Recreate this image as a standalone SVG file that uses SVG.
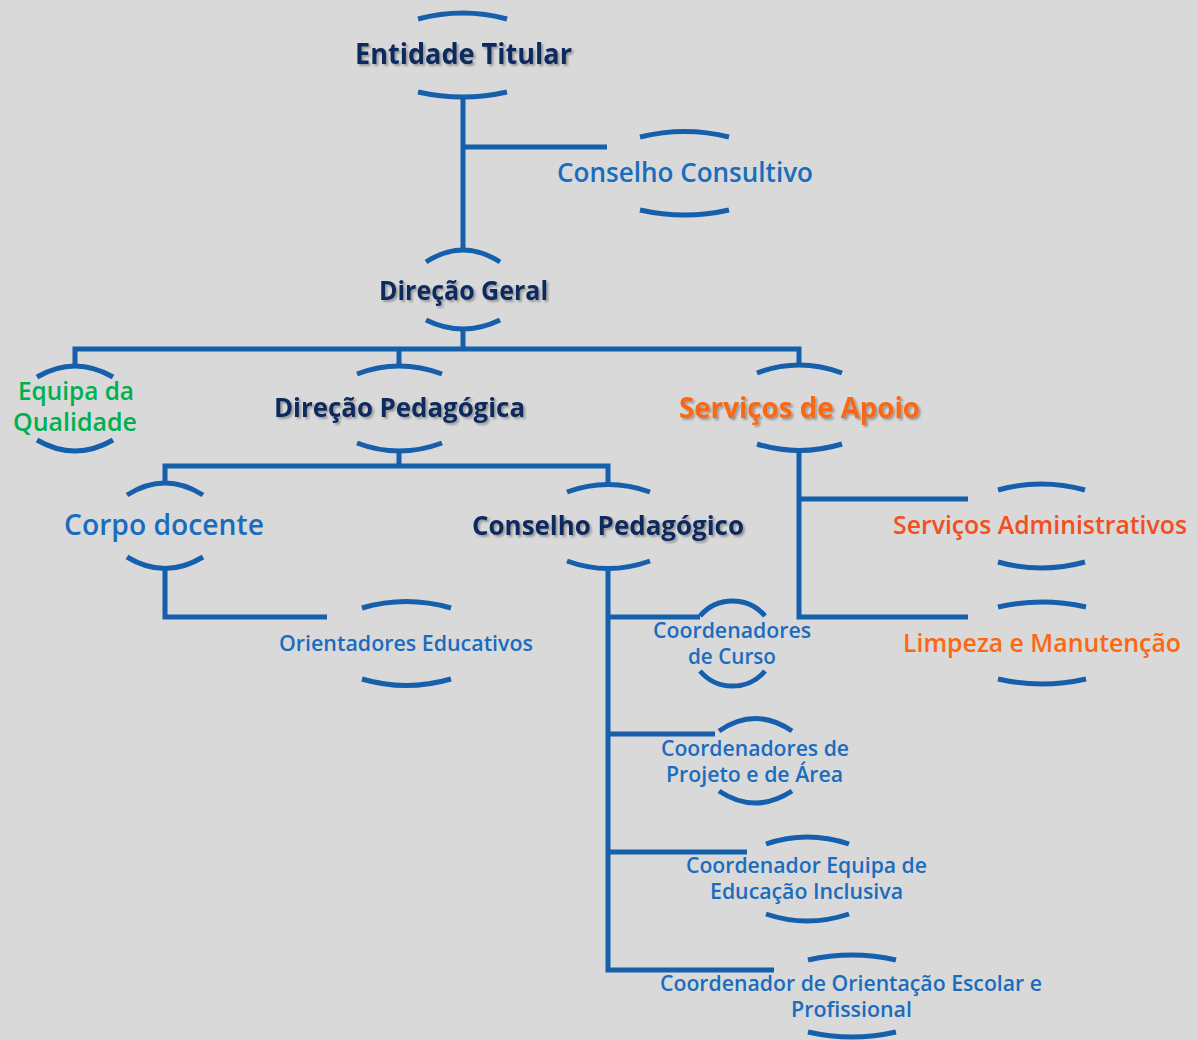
<svg xmlns="http://www.w3.org/2000/svg" width="1197" height="1040" viewBox="0 0 1197 1040">
<defs>
<filter id="sh" x="-10%" y="-30%" width="120%" height="160%">
<feDropShadow dx="2" dy="2" stdDeviation="1.2" flood-color="#000" flood-opacity="0.3"/>
</filter>
<style>
.ln{fill:none;stroke:#155fad;stroke-width:5;stroke-linejoin:miter;stroke-linecap:butt}
.arc{fill:none;stroke:#155fad;stroke-width:5;stroke-linecap:butt}
text{font-family:"Open Sans","Noto Sans","Liberation Sans",sans-serif;text-anchor:middle;font-weight:600}
.navy{fill:#10295e;font-weight:bold;filter:url(#sh)}
.title{font-weight:bold;filter:url(#sh)}
.blue{fill:#1a6cbf}
.green{fill:#00b050}
.orange{fill:#fa6812}
.red{fill:#f24e1e}
</style>
</defs>
<rect width="1197" height="1040" fill="#d9d9d9"/>
<g id="connectors">
<path class="ln" d="M463,97 V251"/>
<path class="ln" d="M463,147 H607"/>
<path class="ln" d="M463,329 V349"/>
<path class="ln" d="M75,367 V349 H799 V366"/>
<path class="ln" d="M399,349 V367"/>
<path class="ln" d="M399,451 V466"/>
<path class="ln" d="M165,484 V466 H608 V485"/>
<path class="ln" d="M165,569 V617 H327"/>
<path class="ln" d="M608,569 V970 H774"/>
<path class="ln" d="M608,617 H700"/>
<path class="ln" d="M608,734 H715"/>
<path class="ln" d="M608,852 H747"/>
<path class="ln" d="M799,450 V617 H968"/>
<path class="ln" d="M799,499 H968"/>
</g>
<g id="entidade-titular">
<path class="arc" d="M418,19 Q463,7 507,19"/>
<path class="arc" d="M418,92 Q463,102 507,92"/>
<text class="navy" x="463.5" y="64" font-size="29" textLength="217" lengthAdjust="spacingAndGlyphs">Entidade Titular</text>
</g>
<g id="conselho-consultivo">
<path class="arc" d="M640,137 Q685,126 729,137"/>
<path class="arc" d="M640,210 Q685,220 729,210"/>
<text class="blue" x="685" y="182" font-size="27" textLength="256" lengthAdjust="spacingAndGlyphs">Conselho Consultivo</text>
</g>
<g id="direcao-geral">
<path class="arc" d="M426,262 Q463,238 500,262"/>
<path class="arc" d="M426,320 Q463,338 500,320"/>
<text class="navy" x="463.5" y="300" font-size="27" textLength="169" lengthAdjust="spacingAndGlyphs">Direção Geral</text>
</g>
<g id="equipa-qualidade">
<path class="arc" d="M37,377 Q75,355 113,377"/>
<path class="arc" d="M37,440 Q75,462 113,440"/>
<text class="green" x="76" y="400" font-size="25" textLength="116" lengthAdjust="spacingAndGlyphs">Equipa da</text>
<text class="green" x="75" y="431" font-size="25" textLength="124" lengthAdjust="spacingAndGlyphs">Qualidade</text>
</g>
<g id="direcao-pedagogica">
<path class="arc" d="M357,374 Q399,358 442,374"/>
<path class="arc" d="M357,443 Q399,459 442,443"/>
<text class="navy" x="399.5" y="417" font-size="27" textLength="251" lengthAdjust="spacingAndGlyphs">Direção Pedagógica</text>
</g>
<g id="servicos-apoio">
<path class="arc" d="M757,373 Q799,357 842,373"/>
<path class="arc" d="M757,444 Q799,457 842,444"/>
<text class="orange title" x="799.5" y="418" font-size="29" textLength="241" lengthAdjust="spacingAndGlyphs">Serviços de Apoio</text>
</g>
<g id="corpo-docente">
<path class="arc" d="M127,495 Q165,471 203,495"/>
<path class="arc" d="M127,557 Q165,580 203,557"/>
<text class="blue" x="164" y="535" font-size="28" textLength="200" lengthAdjust="spacingAndGlyphs">Corpo docente</text>
</g>
<g id="conselho-pedagogico">
<path class="arc" d="M567,492 Q608,477 650,492"/>
<path class="arc" d="M567,561 Q608,576 650,561"/>
<text class="navy" x="608" y="535" font-size="27" textLength="272" lengthAdjust="spacingAndGlyphs">Conselho Pedagógico</text>
</g>
<g id="orientadores-educativos">
<path class="arc" d="M362,608 Q406,595 451,608"/>
<path class="arc" d="M362,679 Q406,692 451,679"/>
<text class="blue" x="406" y="651" font-size="22" textLength="254" lengthAdjust="spacingAndGlyphs">Orientadores Educativos</text>
</g>
<g id="coordenadores-curso">
<path class="arc" d="M700,616 A42.6,42.6 0 0 1 765,616"/>
<path class="arc" d="M700,671 A42.6,42.6 0 0 0 765,671"/>
<text class="blue" x="732" y="638" font-size="21" textLength="158" lengthAdjust="spacingAndGlyphs">Coordenadores</text>
<text class="blue" x="732" y="664" font-size="21" textLength="88" lengthAdjust="spacingAndGlyphs">de Curso</text>
</g>
<g id="coordenadores-projeto">
<path class="arc" d="M719,731 Q755,706 792,731"/>
<path class="arc" d="M719,791 Q755,815 792,791"/>
<text class="blue" x="755" y="756" font-size="21" textLength="188" lengthAdjust="spacingAndGlyphs">Coordenadores de</text>
<text class="blue" x="754.5" y="782" font-size="21" textLength="177" lengthAdjust="spacingAndGlyphs">Projeto e de Área</text>
</g>
<g id="coordenador-inclusiva">
<path class="arc" d="M766,844 Q807,830 849,844"/>
<path class="arc" d="M766,914 Q807,928 849,914"/>
<text class="blue" x="806.5" y="873" font-size="21" textLength="241" lengthAdjust="spacingAndGlyphs">Coordenador Equipa de</text>
<text class="blue" x="806.5" y="899" font-size="21" textLength="193" lengthAdjust="spacingAndGlyphs">Educação Inclusiva</text>
</g>
<g id="coordenador-orientacao">
<path class="arc" d="M808,960 Q852,950 896,960"/>
<path class="arc" d="M808,1032 Q852,1042 896,1032"/>
<text class="blue" x="851" y="991" font-size="21" textLength="382" lengthAdjust="spacingAndGlyphs">Coordenador de Orientação Escolar e</text>
<text class="blue" x="851.5" y="1017" font-size="21" textLength="121" lengthAdjust="spacingAndGlyphs">Profissional</text>
</g>
<g id="servicos-administrativos">
<path class="arc" d="M998,490 Q1041,478 1085,490"/>
<path class="arc" d="M998,562 Q1041,574 1085,562"/>
<text class="red" x="1040" y="534" font-size="24.5" textLength="294" lengthAdjust="spacingAndGlyphs">Serviços Administrativos</text>
</g>
<g id="limpeza-manutencao">
<path class="arc" d="M998,607 Q1042,597 1086,607"/>
<path class="arc" d="M998,679 Q1042,689 1086,679"/>
<text class="orange" x="1042" y="652" font-size="26" textLength="278" lengthAdjust="spacingAndGlyphs">Limpeza e Manutenção</text>
</g>
</svg>
